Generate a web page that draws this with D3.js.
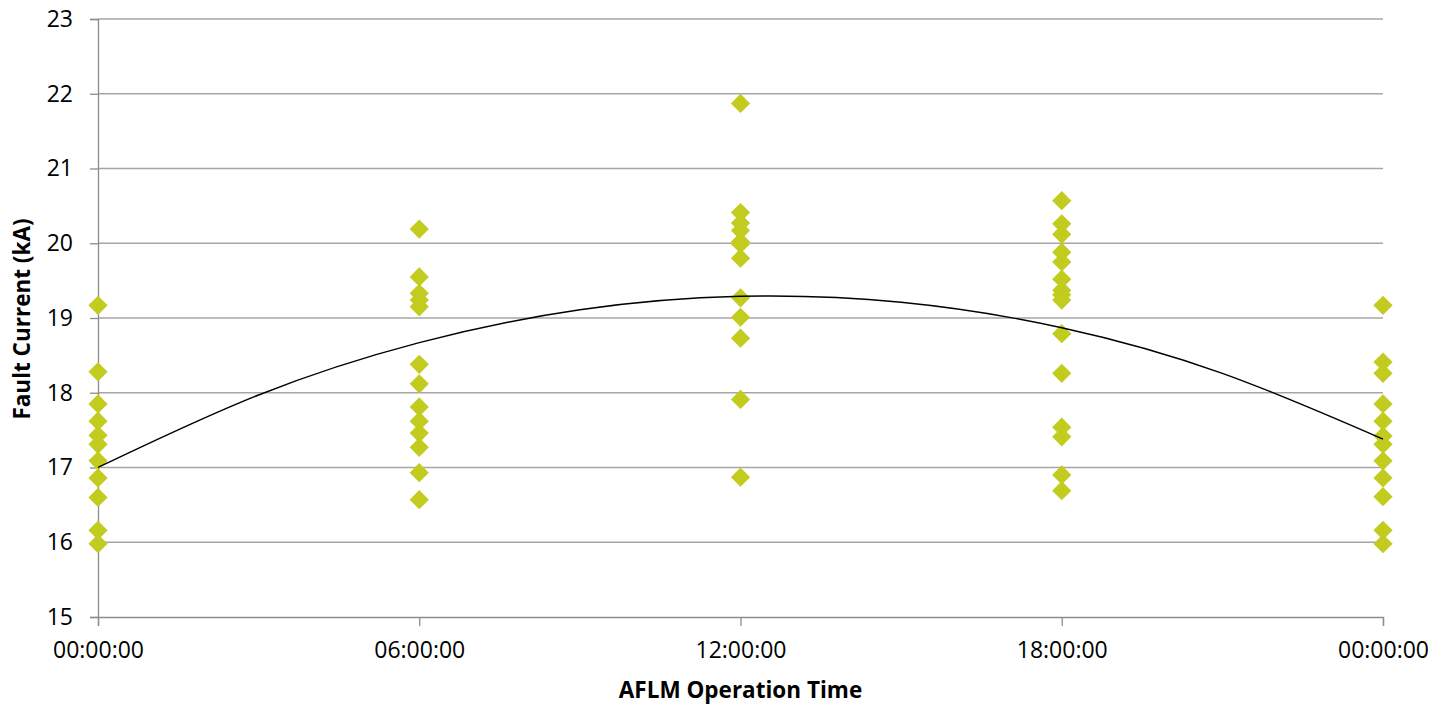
<!DOCTYPE html>
<html>
<head>
<meta charset="utf-8">
<script src="https://cdn.jsdelivr.net/npm/d3@7"></script>
<style>
  body { margin: 0; background: #fff; }
  text { font-family: "Open Sans", sans-serif; fill: #000; }
</style>
</head>
<body>
<div id="chart"></div>
<script>
// hours of day for each group of readings (0 and 24 = midnight)
var hours = [0, 6, 12, 18, 24];

// fault current readings (kA) per time
var at0000 = [19.17, 18.28, 17.85, 17.62, 17.43, 17.31, 17.09, 16.86, 16.60, 16.16, 15.98];
var at0600 = [20.19, 19.55, 19.33, 19.24, 19.15, 18.38, 18.12, 17.81, 17.62, 17.46, 17.27, 16.93, 16.57];
var at1200 = [21.87, 20.41, 20.27, 20.17, 20.02, 19.99, 19.80, 19.27, 19.01, 18.73, 17.91, 16.87];
var at1800 = [20.57, 20.26, 20.12, 19.88, 19.75, 19.52, 19.37, 19.31, 19.24, 18.79, 18.26, 17.54, 17.41, 16.90, 16.69];
var at2400 = [19.17, 18.41, 18.26, 17.85, 17.62, 17.42, 17.31, 17.09, 16.86, 16.61, 16.16, 15.98];

// polynomial trend line, every 3 hours
var trendHours = [0, 3, 6, 9, 12, 15, 18, 21, 24];
var trendValues = [17.00, 17.97, 18.67, 19.11, 19.29, 19.21, 18.87, 18.26, 17.38];

var xTickLabels = ["00:00:00", "06:00:00", "12:00:00", "18:00:00", "00:00:00"];
var yTicks = [15, 16, 17, 18, 19, 20, 21, 22, 23];

var groups = [at0000, at0600, at1200, at1800, at2400];
var points = [];
groups.forEach(function(g, i) {
  g.forEach(function(v) { points.push({t: hours[i], v: v}); });
});
var trend = trendHours.map(function(t, i) { return {t: t, v: trendValues[i]}; });

var W = 1439, H = 705;
var margin = {top: 19, right: 56, bottom: 88, left: 98};
var width = W - margin.left - margin.right,
    height = H - margin.top - margin.bottom;

var svg = d3.select("#chart").append("svg")
    .attr("width", W)
    .attr("height", H)
  .append("g")
    .attr("transform", "translate(" + margin.left + "," + margin.top + ")");

var x = d3.scaleLinear().domain([0, 24]).range([0, width]);
var y = d3.scaleLinear().domain([15, 23]).range([height, 0]);

// gridlines
svg.append("g")
  .selectAll("line")
  .data(yTicks.slice(1))
  .enter().append("line")
    .attr("x1", 0).attr("x2", width)
    .attr("y1", function(d) { return y(d); })
    .attr("y2", function(d) { return y(d); })
    .attr("stroke", "#a6a6a6")
    .attr("stroke-width", 1.3);

// y axis
var yAxis = svg.append("g")
    .call(d3.axisLeft(y).tickValues(yTicks).tickSize(8).tickPadding(17));
yAxis.selectAll("line").attr("stroke", "#8c8c8c").attr("stroke-width", 1.3);
yAxis.select(".domain").attr("stroke", "#8c8c8c").attr("stroke-width", 1.3);
yAxis.selectAll("text").style("font-size", "23px").style("font-family", "Open Sans");

// x axis
var xAxis = svg.append("g")
    .attr("transform", "translate(0," + height + ")")
    .call(d3.axisBottom(x).tickValues(hours).tickSize(9).tickPadding(16)
      .tickFormat(function(d, i) { return xTickLabels[i]; }));
xAxis.selectAll("line").attr("stroke", "#8c8c8c").attr("stroke-width", 1.3);
xAxis.select(".domain").attr("stroke", "#8c8c8c").attr("stroke-width", 1.3);
xAxis.selectAll("text").style("font-size", "23px").style("font-family", "Open Sans");

// markers
var diamond = d3.symbol().type(d3.symbolSquare).size(185);
svg.append("g")
  .selectAll("path")
  .data(points)
  .enter().append("path")
    .attr("d", diamond)
    .attr("transform", function(d) {
      return "translate(" + x(d.t) + "," + y(d.v) + ") rotate(45)";
    })
    .attr("fill", "#c2cc1f");

// trend line
svg.append("path")
  .datum(trend)
  .attr("fill", "none")
  .attr("stroke", "#000")
  .attr("stroke-width", 1.4)
  .attr("d", d3.line()
    .curve(d3.curveNatural)
    .x(function(d) { return x(d.t); })
    .y(function(d) { return y(d.v); }));

// axis titles
svg.append("text")
  .attr("x", width / 2)
  .attr("y", height + 81)
  .attr("text-anchor", "middle")
  .style("font-size", "22.5px")
  .style("font-weight", "bold")
  .text("AFLM Operation Time");

svg.append("text")
  .attr("transform", "translate(" + (-68) + "," + (height / 2 + 1) + ") rotate(-90)")
  .attr("text-anchor", "middle")
  .style("font-size", "22.5px")
  .style("font-weight", "bold")
  .text("Fault Current (kA)");
</script>
</body>
</html>
